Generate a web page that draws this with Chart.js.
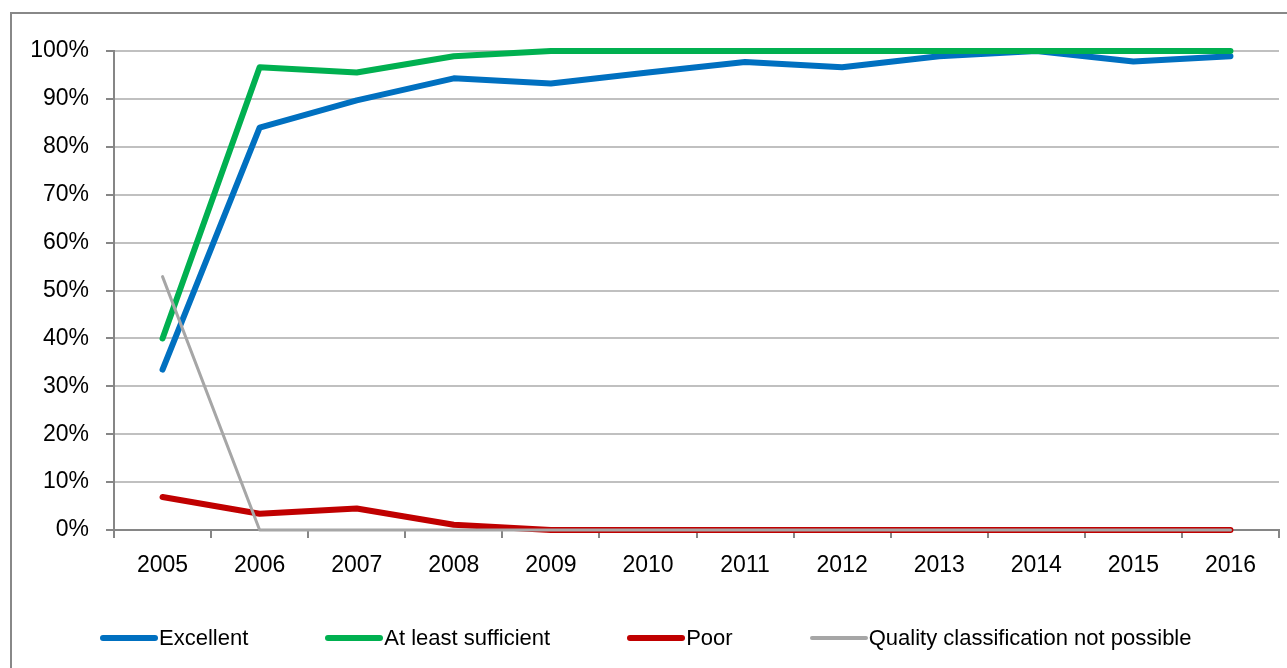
<!DOCTYPE html>
<html lang="en">
<head>
  <meta charset="UTF-8">
  <title>Bathing water quality 2005-2016</title>
  <script src="https://cdn.jsdelivr.net/npm/chart.js"></script>
  <style>
    html, body {
      margin: 0;
      padding: 0;
      background: #fff;
      overflow: hidden;
    }

    .frame {
      position: absolute;
      left: 10px;
      top: 12px;
      width: 1320px;
      height: 700px;
      border: 2px solid #888;
      box-sizing: border-box;
    }

    .wrap {
      position: absolute;
      left: 0;
      top: 0;
      width: 1287px;
      height: 668px;
    }

    .legend {
      position: absolute;
      left: 100px;
      top: 624px;
      display: flex;
      font-family: "Liberation Sans", Arial, sans-serif;
      font-size: 22px;
      line-height: 28px;
      color: #000;
      white-space: nowrap;
    }

    .legend .item {
      display: flex;
      align-items: center;
      margin-right: 77px;
    }

    .legend .swatch {
      width: 58px;
      border-radius: 3px;
      margin-right: 1px;
    }
  </style>
</head>
<body>
  <div class="frame"></div>
  <div class="wrap">
    <canvas id="lineChart" width="1287" height="668"></canvas>
  </div>
  <div class="legend" id="legend"></div>

  <script>
    const years = ['2005', '2006', '2007', '2008', '2009', '2010', '2011', '2012', '2013', '2014', '2015', '2016'];
    const excellent = [33.5, 84, 89.7, 94.3, 93.2, 95.5, 97.7, 96.6, 98.9, 100, 97.8, 98.9];
    const sufficient = [40, 96.6, 95.5, 98.9, 100, 100, 100, 100, 100, 100, 100, 100];
    const poor = [6.9, 3.4, 4.5, 1.1, 0, 0, 0, 0, 0, 0, 0, 0];
    const notPossible = [52.9, 0, 0, 0, 0, 0, 0, 0, 0, 0, 0, 0];
    const yTicks = [0, 10, 20, 30, 40, 50, 60, 70, 80, 90, 100];

    const series = [
      { label: 'Excellent', data: excellent, color: '#0070C0', width: 6, order: 4 },
      { label: 'At least sufficient', data: sufficient, color: '#00B050', width: 6, order: 3 },
      { label: 'Poor', data: poor, color: '#C00000', width: 6, order: 2 },
      { label: 'Quality classification not possible', data: notPossible, color: '#A6A6A6', width: 3, order: 1 }
    ];

    const font = { family: '"Liberation Sans", Arial, sans-serif', size: 23 };

    new Chart(document.getElementById('lineChart'), {
      type: 'line',
      data: {
        labels: years,
        datasets: series.map(s => ({
          label: s.label,
          data: s.data,
          borderColor: s.color,
          backgroundColor: s.color,
          borderWidth: s.width,
          borderCapStyle: 'round',
          borderJoinStyle: 'round',
          pointRadius: 0,
          tension: 0,
          clip: false,
          order: s.order
        }))
      },
      options: {
        responsive: false,
        animation: false,
        layout: {
          padding: { left: 0, right: 8, top: 51, bottom: 78 }
        },
        plugins: {
          legend: { display: false },
          tooltip: { enabled: false }
        },
        scales: {
          x: {
            offset: true,
            afterFit: scale => { scale.height = 60; },
            grid: {
              offset: true,
              drawOnChartArea: false,
              drawTicks: true,
              tickLength: 8,
              tickColor: '#868686',
              lineWidth: 2
            },
            border: { color: '#868686', width: 2 },
            ticks: {
              color: '#000',
              font: font,
              padding: 14,
              maxRotation: 0
            }
          },
          y: {
            min: 0,
            max: 100,
            afterFit: scale => { scale.width = 114; },
            afterBuildTicks: scale => {
              scale.ticks = yTicks.map(v => ({ value: v }));
            },
            grid: {
              color: '#C0C0C0',
              lineWidth: 2,
              tickLength: 8,
              tickColor: '#868686'
            },
            border: { color: '#868686', width: 2 },
            ticks: {
              color: '#000',
              font: font,
              padding: 17,
              callback: v => v + '%'
            }
          }
        }
      }
    });

    // legend as plain html, same look as the original line swatches
    const legend = document.getElementById('legend');
    series.forEach(s => {
      const item = document.createElement('div');
      item.className = 'item';
      const sw = document.createElement('span');
      sw.className = 'swatch';
      sw.style.background = s.color;
      sw.style.height = (s.width === 3 ? 4 : 6) + 'px';
      const txt = document.createElement('span');
      txt.textContent = s.label;
      item.appendChild(sw);
      item.appendChild(txt);
      legend.appendChild(item);
    });
  </script>
</body>
</html>
